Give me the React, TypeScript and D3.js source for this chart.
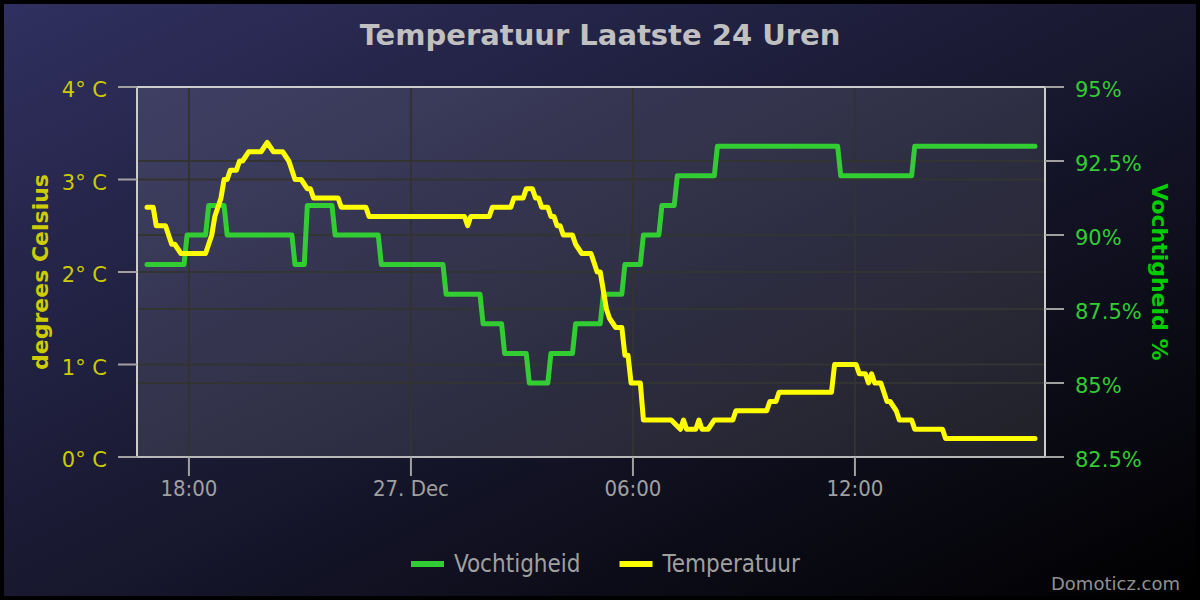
import { useRef, useEffect } from 'react';
import * as d3 from 'd3';

// Humidity (%) - vertices of the stepped series, 5 minute samples
const humidity_times = [
    "2016-12-26 16:52", "2016-12-26 17:52", "2016-12-26 17:57", "2016-12-26 18:27", "2016-12-26 18:32",
    "2016-12-26 18:57", "2016-12-26 19:02", "2016-12-26 20:47", "2016-12-26 20:52", "2016-12-26 21:07",
    "2016-12-26 21:12", "2016-12-26 21:52", "2016-12-26 21:57", "2016-12-26 23:07", "2016-12-26 23:12",
    "2016-12-27 00:52", "2016-12-27 00:57", "2016-12-27 01:52", "2016-12-27 01:57", "2016-12-27 02:27",
    "2016-12-27 02:32", "2016-12-27 03:07", "2016-12-27 03:12", "2016-12-27 03:42", "2016-12-27 03:47",
    "2016-12-27 04:22", "2016-12-27 04:27", "2016-12-27 05:07", "2016-12-27 05:12", "2016-12-27 05:42",
    "2016-12-27 05:47", "2016-12-27 06:12", "2016-12-27 06:17", "2016-12-27 06:42", "2016-12-27 06:47",
    "2016-12-27 07:07", "2016-12-27 07:12", "2016-12-27 08:12", "2016-12-27 08:17", "2016-12-27 11:32",
    "2016-12-27 11:37", "2016-12-27 13:32", "2016-12-27 13:37", "2016-12-27 16:52",
];
const humidity_values = [
    89, 89, 90, 90, 91,
    91, 90, 90, 89, 89,
    91, 91, 90, 90, 89,
    89, 88, 88, 87, 87,
    86, 86, 85, 85, 86,
    86, 87, 87, 88, 88,
    89, 89, 90, 90, 91,
    91, 92, 92, 93, 93,
    92, 92, 93, 93,
];

// Temperature (degrees C)
const temperature_times = [
    "2016-12-26 16:52", "2016-12-26 17:02", "2016-12-26 17:07", "2016-12-26 17:22", "2016-12-26 17:27",
    "2016-12-26 17:32", "2016-12-26 17:37", "2016-12-26 17:47", "2016-12-26 18:27", "2016-12-26 18:32",
    "2016-12-26 18:37", "2016-12-26 18:42", "2016-12-26 18:47", "2016-12-26 18:52", "2016-12-26 18:57",
    "2016-12-26 19:02", "2016-12-26 19:07", "2016-12-26 19:17", "2016-12-26 19:22", "2016-12-26 19:27",
    "2016-12-26 19:37", "2016-12-26 19:57", "2016-12-26 20:07", "2016-12-26 20:17", "2016-12-26 20:32",
    "2016-12-26 20:42", "2016-12-26 20:47", "2016-12-26 20:52", "2016-12-26 21:02", "2016-12-26 21:12",
    "2016-12-26 21:17", "2016-12-26 21:22", "2016-12-26 22:02", "2016-12-26 22:07", "2016-12-26 22:47",
    "2016-12-26 22:52", "2016-12-27 01:27", "2016-12-27 01:32", "2016-12-27 01:37", "2016-12-27 02:07",
    "2016-12-27 02:12", "2016-12-27 02:42", "2016-12-27 02:47", "2016-12-27 03:02", "2016-12-27 03:07",
    "2016-12-27 03:17", "2016-12-27 03:22", "2016-12-27 03:27", "2016-12-27 03:32", "2016-12-27 03:42",
    "2016-12-27 03:47", "2016-12-27 03:52", "2016-12-27 03:57", "2016-12-27 04:02", "2016-12-27 04:07",
    "2016-12-27 04:22", "2016-12-27 04:27", "2016-12-27 04:37", "2016-12-27 04:52", "2016-12-27 05:02",
    "2016-12-27 05:07", "2016-12-27 05:12", "2016-12-27 05:17", "2016-12-27 05:22", "2016-12-27 05:32",
    "2016-12-27 05:42", "2016-12-27 05:47", "2016-12-27 05:52", "2016-12-27 05:57", "2016-12-27 06:12",
    "2016-12-27 06:17", "2016-12-27 07:02", "2016-12-27 07:17", "2016-12-27 07:22", "2016-12-27 07:27",
    "2016-12-27 07:42", "2016-12-27 07:47", "2016-12-27 07:52", "2016-12-27 08:02", "2016-12-27 08:12",
    "2016-12-27 08:42", "2016-12-27 08:47", "2016-12-27 09:37", "2016-12-27 09:42", "2016-12-27 09:52",
    "2016-12-27 09:57", "2016-12-27 11:22", "2016-12-27 11:27", "2016-12-27 12:02", "2016-12-27 12:07",
    "2016-12-27 12:17", "2016-12-27 12:22", "2016-12-27 12:27", "2016-12-27 12:32", "2016-12-27 12:42",
    "2016-12-27 12:47", "2016-12-27 12:52", "2016-12-27 12:57", "2016-12-27 13:07", "2016-12-27 13:12",
    "2016-12-27 13:32", "2016-12-27 13:37", "2016-12-27 14:22", "2016-12-27 14:27", "2016-12-27 16:52",
];
const temperature_values = [
    2.7, 2.7, 2.5, 2.5, 2.4,
    2.3, 2.3, 2.2, 2.2, 2.3,
    2.4, 2.6, 2.7, 2.8, 3.0,
    3.0, 3.1, 3.1, 3.2, 3.2,
    3.3, 3.3, 3.4, 3.3, 3.3,
    3.2, 3.1, 3.0, 3.0, 2.9,
    2.9, 2.8, 2.8, 2.7, 2.7,
    2.6, 2.6, 2.5, 2.6, 2.6,
    2.7, 2.7, 2.8, 2.8, 2.9,
    2.9, 2.8, 2.8, 2.7, 2.7,
    2.6, 2.6, 2.5, 2.5, 2.4,
    2.4, 2.3, 2.2, 2.2, 2.0,
    2.0, 1.8, 1.6, 1.5, 1.4,
    1.4, 1.1, 1.1, 0.8, 0.8,
    0.4, 0.4, 0.3, 0.4, 0.3,
    0.3, 0.4, 0.3, 0.3, 0.4,
    0.4, 0.5, 0.5, 0.6, 0.6,
    0.7, 0.7, 1.0, 1.0, 0.9,
    0.9, 0.8, 0.9, 0.8, 0.8,
    0.7, 0.6, 0.6, 0.5, 0.4,
    0.4, 0.3, 0.3, 0.2, 0.2,
];

const temperature_ticks = [0, 1, 2, 3, 4];
const humidity_ticks = [82.5, 85, 87.5, 90, 92.5, 95];
const x_ticks = ["2016-12-26 18:00", "2016-12-27 00:00", "2016-12-27 06:00", "2016-12-27 12:00"];
const x_tick_labels = ["18:00", "27. Dec", "06:00", "12:00"];

const series_names = ["Vochtigheid", "Temperatuur"];
const series_colors = ["#32cd32", "#ffff00"];

export default function App() {
    const ref = useRef<HTMLDivElement>(null);

    useEffect(() => {
        const svg_width = 1200;
        const svg_height = 600;
        const left = 137, top = 87;
        const width = 908, height = 370;
        const font = "'DejaVu Sans', sans-serif";
        const font_cond = "'DejaVu Sans Condensed', 'DejaVu Sans', sans-serif";

        const parse = d3.timeParse("%Y-%m-%d %H:%M");
        const hum = humidity_times.map((t, i) => ({ t: parse(t) as Date, v: humidity_values[i] }));
        const temp = temperature_times.map((t, i) => ({ t: parse(t) as Date, v: temperature_values[i] }));

        const ext = d3.extent([...hum, ...temp], (d) => d.t) as [Date, Date];
        const pad = (+ext[1] - +ext[0]) * 10 / 888;

        const x = d3.scaleTime()
            .domain([new Date(+ext[0] - pad), new Date(+ext[1] + pad)])
            .range([0, width]);
        const y_temp = d3.scaleLinear().domain([0, 4]).range([height, 0]);
        const y_hum = d3.scaleLinear().domain([82.5, 95]).range([height, 0]);

        const svg = d3.select(ref.current)
            .append("svg")
                .attr("width", svg_width)
                .attr("height", svg_height)
                .style("position", "absolute")
                .style("left", "0px")
                .style("top", "0px");

        const defs = svg.append("defs");
        const grad = defs.append("linearGradient")
            .attr("id", "bg")
            .attr("x1", 0).attr("y1", 0).attr("x2", 1).attr("y2", 1);
        grad.append("stop").attr("offset", "0%").attr("stop-color", "rgb(48,48,96)");
        grad.append("stop").attr("offset", "100%").attr("stop-color", "rgb(0,0,0)");

        svg.append("rect")
            .attr("width", svg_width).attr("height", svg_height)
            .attr("fill", "#000");
        svg.append("rect")
            .attr("x", 4).attr("y", 4)
            .attr("width", svg_width - 8).attr("height", svg_height - 8)
            .attr("fill", "url(#bg)");

        svg.append("text")
            .attr("x", svg_width / 2)
            .attr("y", 45)
            .attr("text-anchor", "middle")
            .style("font-family", font)
            .style("font-size", "29px")
            .style("font-weight", "bold")
            .attr("fill", "#c0c0c0")
            .text("Temperatuur Laatste 24 Uren");

        const g = svg.append("g").attr("transform", `translate(${left}, ${top})`);

        g.append("rect")
            .attr("width", width).attr("height", height)
            .attr("fill", "rgba(255,255,255,0.1)");

        // grid lines for both y axes and the x axis
        const grid = g.append("g").attr("stroke", "#333333").attr("stroke-width", 2);
        temperature_ticks.forEach((d) => {
            grid.append("line").attr("x1", 0).attr("x2", width)
                .attr("y1", y_temp(d)).attr("y2", y_temp(d));
        });
        humidity_ticks.forEach((d) => {
            grid.append("line").attr("x1", 0).attr("x2", width)
                .attr("y1", y_hum(d)).attr("y2", y_hum(d));
        });
        x_ticks.forEach((d) => {
            const xx = x(parse(d) as Date);
            grid.append("line").attr("x1", xx).attr("x2", xx)
                .attr("y1", 0).attr("y2", height);
        });

        // series
        const line = (y: d3.ScaleLinear<number, number>) => d3.line<{ t: Date; v: number }>()
            .x((d) => x(d.t))
            .y((d) => y(d.v));

        g.append("path")
            .datum(hum)
            .attr("d", line(y_hum))
            .attr("fill", "none")
            .attr("stroke", series_colors[0])
            .attr("stroke-width", 5)
            .attr("stroke-linejoin", "round")
            .attr("stroke-linecap", "round");
        g.append("path")
            .datum(temp)
            .attr("d", line(y_temp))
            .attr("fill", "none")
            .attr("stroke", series_colors[1])
            .attr("stroke-width", 5)
            .attr("stroke-linejoin", "round")
            .attr("stroke-linecap", "round");

        // plot border
        g.append("rect")
            .attr("width", width).attr("height", height)
            .attr("fill", "none")
            .attr("stroke", "#cccccc")
            .attr("stroke-width", 2);
        g.append("line")
            .attr("x1", 0).attr("x2", width)
            .attr("y1", height).attr("y2", height)
            .attr("stroke", "#b8b8b8").attr("stroke-width", 2);

        // x axis
        x_ticks.forEach((d, i) => {
            const xx = x(parse(d) as Date);
            g.append("line")
                .attr("x1", xx).attr("x2", xx)
                .attr("y1", height).attr("y2", height + 19)
                .attr("stroke", "#a0a0a0").attr("stroke-width", 2);
            g.append("text")
                .attr("x", xx)
                .attr("y", height + 39)
                .attr("text-anchor", "middle")
                .style("font-family", font_cond)
                .style("font-size", "22px")
                .attr("fill", "#a0a0a0")
                .text(x_tick_labels[i]);
        });

        // left axis (temperature)
        temperature_ticks.forEach((d) => {
            g.append("line")
                .attr("x1", -19).attr("x2", 0)
                .attr("y1", y_temp(d)).attr("y2", y_temp(d))
                .attr("stroke", "#a0a0a0").attr("stroke-width", 2);
            g.append("text")
                .attr("x", -30)
                .attr("y", y_temp(d) + 10)
                .attr("text-anchor", "end")
                .style("font-family", font)
                .style("font-size", "21px")
                .attr("fill", "#cccc00")
                .text(`${d}\u00b0 C`);
        });
        svg.append("text")
            .attr("transform", `translate(48, ${top + height / 2}) rotate(-90)`)
            .attr("text-anchor", "middle")
            .style("font-family", font)
            .style("font-size", "22px")
            .style("font-weight", "bold")
            .attr("fill", "#cccc00")
            .text("degrees Celsius");

        // right axis (humidity)
        humidity_ticks.forEach((d) => {
            g.append("line")
                .attr("x1", width).attr("x2", width + 19)
                .attr("y1", y_hum(d)).attr("y2", y_hum(d))
                .attr("stroke", "#a0a0a0").attr("stroke-width", 2);
            g.append("text")
                .attr("x", width + 30)
                .attr("y", y_hum(d) + 10)
                .attr("text-anchor", "start")
                .style("font-family", font)
                .style("font-size", "21px")
                .attr("fill", "#33cc33")
                .text(`${d}%`);
        });
        svg.append("text")
            .attr("transform", `translate(1152, ${top + height / 2}) rotate(90)`)
            .attr("text-anchor", "middle")
            .style("font-family", font)
            .style("font-size", "22px")
            .style("font-weight", "bold")
            .attr("fill", "#00cc00")
            .text("Vochtigheid %");

        // legend
        const legend = svg.append("g").attr("transform", "translate(411, 564)");
        let offset = 0;
        series_names.forEach((name, i) => {
            const item = legend.append("g").attr("transform", `translate(${offset}, 0)`);
            item.append("line")
                .attr("x1", 0).attr("x2", 33)
                .attr("y1", 0).attr("y2", 0)
                .attr("stroke", series_colors[i])
                .attr("stroke-width", 6);
            const label = item.append("text")
                .attr("x", 43)
                .attr("y", 8)
                .style("font-family", font_cond)
                .style("font-size", "24px")
                .attr("fill", "#a0a0a0")
                .text(name);
            const len = (label.node() as SVGTextElement).getComputedTextLength();
            offset += 43 + len + 39;
        });

        svg.append("text")
            .attr("x", 1180)
            .attr("y", 590)
            .attr("text-anchor", "end")
            .style("font-family", font)
            .style("font-size", "18px")
            .attr("fill", "#909090")
            .text("Domoticz.com");

        return () => {
            d3.select(ref.current).selectAll("*").remove();
        };
    }, [ref]);

    return (
        <div ref={ref} />
    );
}
